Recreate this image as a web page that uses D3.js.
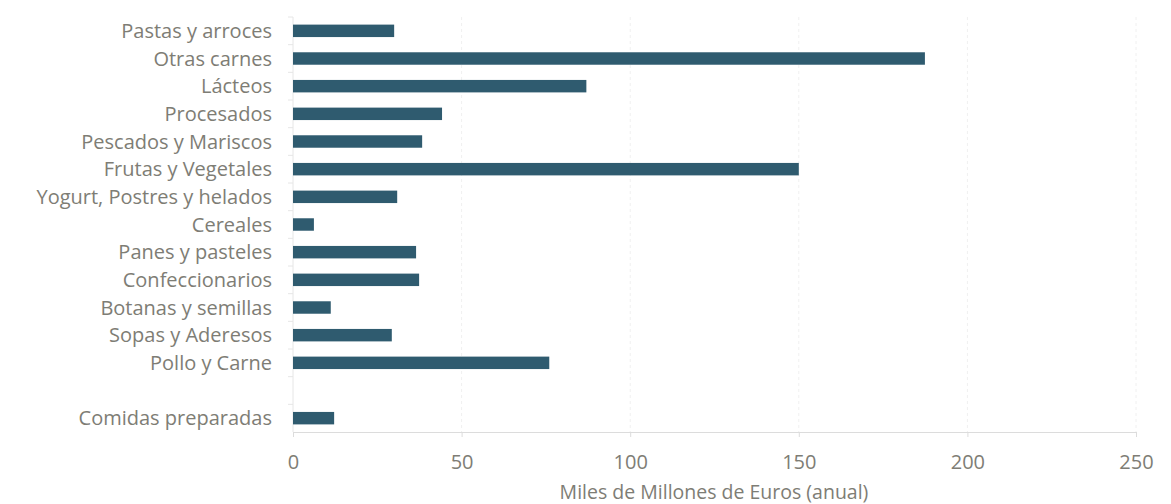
<html>
<head>
<meta charset="utf-8">
<script src="https://d3js.org/d3.v7.min.js"></script>
<style>
body{margin:0;background:#fff;}
svg{display:block;}
text{font-family:"Open Sans", Lato, sans-serif;}
</style>
</head>
<body></body>
<script>
const width = 1171;
const height = 504;

// "" is the blank row between Pollo y Carne and Comidas preparadas
const categories = ['Pastas y arroces','Otras carnes','Lácteos','Procesados','Pescados y Mariscos',
  'Frutas y Vegetales','Yogurt, Postres y helados','Cereales','Panes y pasteles','Confeccionarios',
  'Botanas y semillas','Sopas y Aderesos','Pollo y Carne','','Comidas preparadas'];
const values = [30, 187.4, 87, 44.2, 38.3, 150, 30.9, 6.2, 36.5, 37.4, 11.2, 29.3, 76, null, 12.2];
const xTicks = [0, 50, 100, 150, 200, 250];
const xTitle = 'Miles de Millones de Euros (anual)';

const plotLeft = 293, plotRight = 1136, plotTop = 17, plotBottom = 432;
const textColor = '#7e7d75';

const x = d3.scaleLinear().domain([0, 250]).range([plotLeft, plotRight]);
const y = d3.scaleBand().domain(categories).range([plotTop, plotBottom]).paddingInner(0.55).paddingOuter(0.275);

const svg = d3.select('body').append('svg')
    .attr('width', width)
    .attr('height', height);

// faint vertical gridlines
svg.append('g')
  .selectAll('line')
  .data(xTicks.slice(1))
    .enter()
  .append('line')
    .attr('x1', d=>x(d)).attr('x2', d=>x(d))
    .attr('y1', plotTop).attr('y2', plotBottom)
    .attr('stroke', '#f0f0f0')
    .attr('stroke-dasharray', '3,3');

// x axis
const xAxis = svg.append('g')
    .attr('transform', `translate(0,${plotBottom})`)
    .call(d3.axisBottom(x).tickValues(xTicks).tickSize(5).tickPadding(18));
xAxis.select('.domain').attr('stroke', '#dcdcdc');
xAxis.selectAll('.tick line').attr('stroke', '#dcdcdc');
xAxis.selectAll('.tick text')
    .attr('fill', textColor)
    .style('font-size', '20px');

// y axis line with ticks at band boundaries
svg.append('line')
    .attr('x1', plotLeft).attr('x2', plotLeft)
    .attr('y1', plotTop).attr('y2', plotBottom)
    .attr('stroke', '#e6e6e6');
const step = y.step();
svg.append('g')
  .selectAll('line')
  .data(d3.range(categories.length))
    .enter()
  .append('line')
    .attr('x1', plotLeft - 5).attr('x2', plotLeft)
    .attr('y1', i=>plotTop + i*step).attr('y2', i=>plotTop + i*step)
    .attr('stroke', '#e6e6e6');

// category labels
svg.append('g')
  .selectAll('text')
  .data(categories)
    .enter()
  .append('text')
    .attr('x', plotLeft - 21)
    .attr('y', d=>y(d) + y.bandwidth()/2)
    .attr('dy', '0.35em')
    .attr('text-anchor', 'end')
    .attr('fill', textColor)
    .style('font-size', '20px')
    .text(d=>d);

// bars
svg.append('g')
  .selectAll('rect')
  .data(categories.map((c,i)=>({c, v: values[i]})).filter(d=>d.v != null))
    .enter()
  .append('rect')
    .attr('x', x(0))
    .attr('y', d=>y(d.c))
    .attr('width', d=>x(d.v) - x(0))
    .attr('height', y.bandwidth())
    .attr('fill', '#2f5b6f');

// axis title
svg.append('text')
    .attr('x', 714)
    .attr('y', 499)
    .attr('text-anchor', 'middle')
    .attr('fill', textColor)
    .style('font-size', '19.5px')
    .text(xTitle);
</script>
</html>
